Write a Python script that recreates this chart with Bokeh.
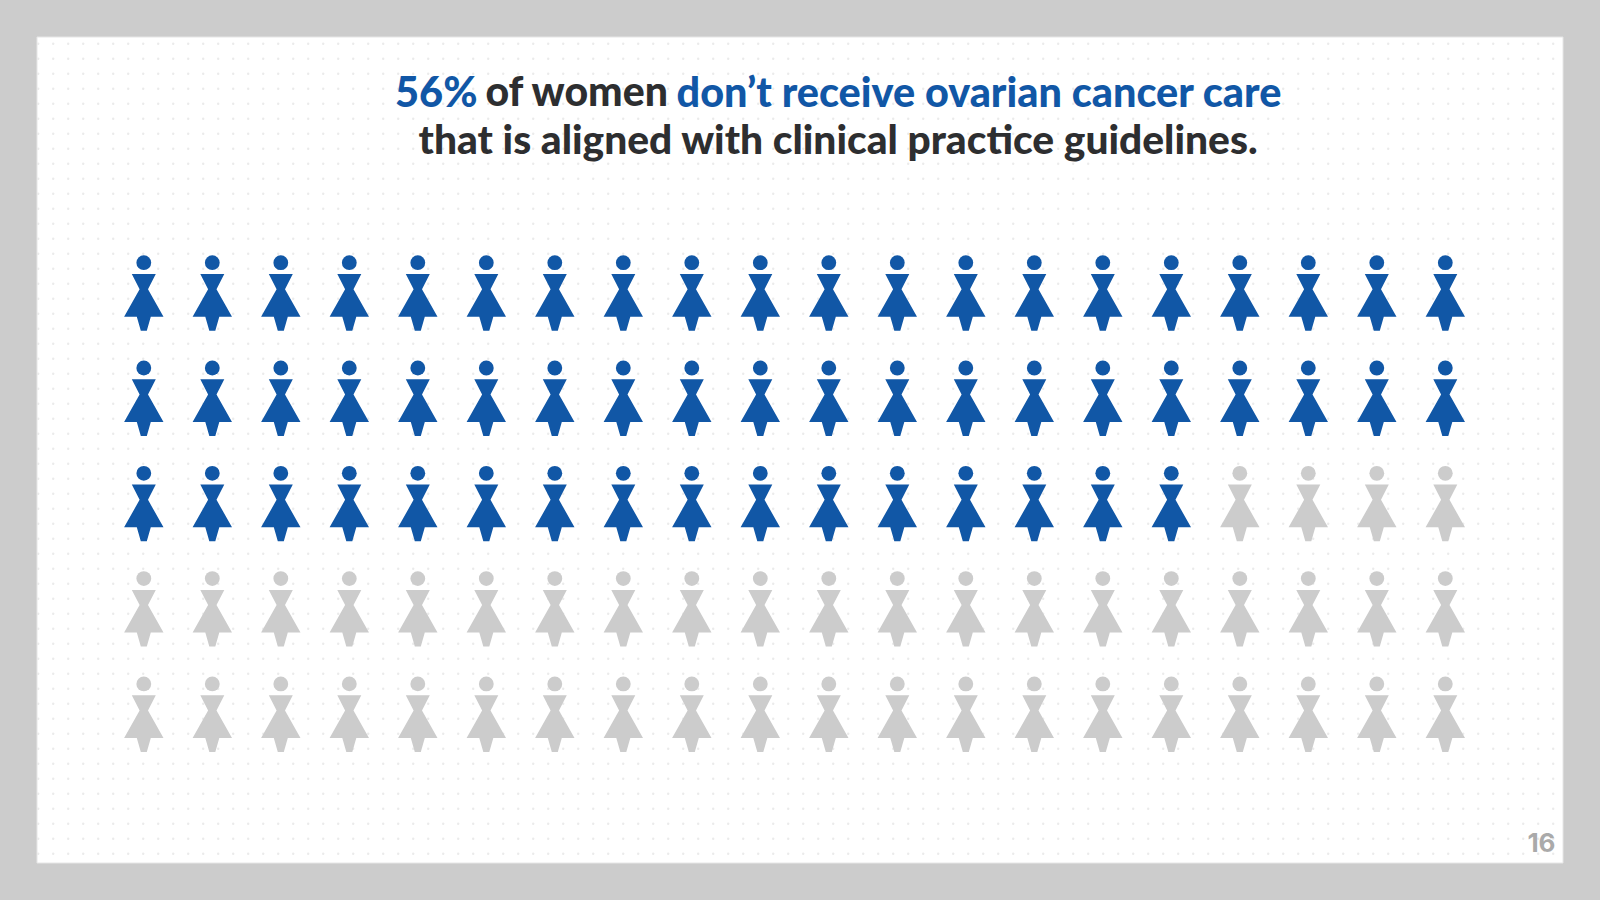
from bokeh.plotting import figure
from bokeh.embed import file_html
from bokeh.resources import INLINE
from bokeh.core.properties import value
from bokeh.models import Range1d, ColumnDataSource
import numpy as np

# --- data ---
affected_share = 56
other_share = 44
n_cols = 20
n_rows = 5
title_line1 = ["56%", "of women", "don\u2019t receive ovarian cancer care"]
title_line1_colors = ["#1157a6", "#2d2e30", "#1157a6"]
title_line1_x = [394.5, 485, 676]
title_line1_sizes = ["41.5px", "41px", "41.4px"]
title_line2 = "that is aligned with clinical practice guidelines."
page_number = "16"

# --- layout ---
W, H = 1584, 884
BLUE, GREY = "#1157a6", "#cccccc"
col_x0, col_dx = 143.3, 68.5
row_y0, row_dy = 262.2, 105.3
head_r = 7.4
body_dx = [-12, 12, 4.2, 19.7, 7, 3, -3, -7, -19.7, -4.2]
body_dy = [11.3, 11.3, 26.5, 54, 54, 68, 68, 54, 54, 26.5]

p = figure(width=W, height=H, output_backend="svg", toolbar_location=None,
           x_range=Range1d(0, W), y_range=Range1d(H, 0),
           min_border=0, outline_line_color=None,
           background_fill_color=GREY, border_fill_color=GREY)
p.axis.visible = False
p.grid.visible = False

# panel
p.quad(left=[36.5], right=[1562.5], top=[36.5], bottom=[862.5],
       fill_color="#ffffff", line_color="#e6e6e6", line_width=1)

# dotted background
dx, dy = np.meshgrid(np.arange(37.7, 1560, 15), np.arange(43.3, 860, 15))
p.scatter(dx.ravel(), dy.ravel(), marker="circle", size=2.4,
          fill_color="#ebebeb", line_color=None)

# pictogram
flags = [affected_share > i for i in range(affected_share + other_share)]
cx, cy, colors, xs, ys = [], [], [], [], []
for i, f in enumerate(flags):
    r, c = divmod(i, n_cols)
    x = col_x0 + c * col_dx
    y = row_y0 + r * row_dy
    col = BLUE if f else GREY
    cx.append(x); cy.append(y); colors.append(col)
    xs.append([x + d for d in body_dx])
    ys.append([y + d for d in body_dy])
src = ColumnDataSource(dict(x=cx, y=cy, color=colors, xs=xs, ys=ys))
p.circle(x="x", y="y", radius=head_r, fill_color="color", line_color=None, source=src)
p.patches(xs="xs", ys="ys", fill_color="color", line_color=None, source=src)

# title
for t, c, x, s in zip(title_line1, title_line1_colors, title_line1_x, title_line1_sizes):
    p.text(x=[x], y=[90.2], text=[t], text_color=c, text_font=value("Lato Black"),
           text_font_size=s,
           text_align="left", text_baseline="alphabetic")
p.text(x=[838], y=[137.8], text=[title_line2], text_color="#2d2e30", text_font=value("Lato Black"),
       text_font_size="40.7px",
       text_align="center", text_baseline="alphabetic")

# page number
p.text(x=[1555], y=[842], text=[page_number], text_color="#aaaaaa", text_font=value("Inter"),
       text_font_style="bold", text_font_size="26px",
       text_align="right", text_baseline="alphabetic")

html = file_html(p, INLINE)
html = html.replace("<head>", "<head><style>html,body{background:#cccccc;overflow:hidden}</style>", 1)
open("out.html", "w").write(html)
